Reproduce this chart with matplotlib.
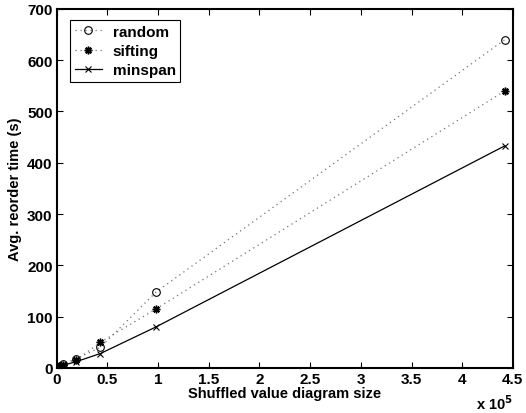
import matplotlib
matplotlib.use("Agg")
import matplotlib.pyplot as plt
from matplotlib.ticker import FuncFormatter, MultipleLocator

sizes = [500, 1500, 3000, 6000, 19000, 43000, 98000, 442000]
random_t = [0.5, 1.5, 3, 8, 18, 40, 148, 640]
sifting_t = [0.5, 1.5, 3, 6, 15, 50, 115, 540]
minspan_t = [0.4, 1, 2, 5, 12, 28, 80, 433]

plt.rcParams['font.family'] = ['Liberation Sans', 'DejaVu Sans']
plt.rcParams['font.weight'] = 'bold'

fig = plt.figure(figsize=(5.26, 4.14), dpi=100)
ax = fig.add_axes([0.108, 0.109, 0.867, 0.867])

dots = (0, (1, 3))
ax.plot(sizes, random_t, linestyle=dots, color='0.45', linewidth=0.9,
        marker='o', markerfacecolor='none', markeredgecolor='black',
        markersize=5.5, markeredgewidth=0.8, label='random')
ax.plot(sizes, sifting_t, linestyle=dots, color='0.45', linewidth=0.9,
        marker=(8, 2, 0), markeredgecolor='black', markersize=5.5,
        markeredgewidth=1.1, label='sifting')
ax.plot(sizes, minspan_t, linestyle='-', color='black', linewidth=0.9,
        marker='x', markersize=4, markeredgewidth=0.8, label='minspan')

ax.set_xlim(0, 450000)
ax.set_ylim(0, 700)
ax.xaxis.set_major_locator(MultipleLocator(50000))
ax.yaxis.set_major_locator(MultipleLocator(100))
ax.xaxis.set_major_formatter(FuncFormatter(lambda v, p: f"{v/1e5:g}"))

ax.tick_params(direction='in', top=True, right=True, length=4, width=0.8,
               labelsize=11, pad=3)
for lab in ax.get_xticklabels() + ax.get_yticklabels():
    lab.set_fontweight('bold')
for s in ax.spines.values():
    s.set_linewidth(1.5)

ax.set_xlabel('Shuffled value diagram size', fontsize=10.5, fontweight='bold', labelpad=0)
ax.set_ylabel('Avg. reorder time (s)', fontsize=10.5, fontweight='bold', labelpad=4)

ax.text(1.0, -0.072, r'x 10$^{\mathbf{5}}$', transform=ax.transAxes, ha='right',
        va='top', fontsize=10.5, fontweight='bold')

leg = ax.legend(loc='upper left', bbox_to_anchor=(0.012, 0.99), fancybox=False,
                edgecolor='black', fontsize=11, handlelength=1.8, borderpad=0.3,
                labelspacing=0.35, handletextpad=0.7, framealpha=1)
leg.get_frame().set_linewidth(0.8)
for t in leg.get_texts():
    t.set_fontweight('bold')

fig.savefig('out.png', dpi=100)
